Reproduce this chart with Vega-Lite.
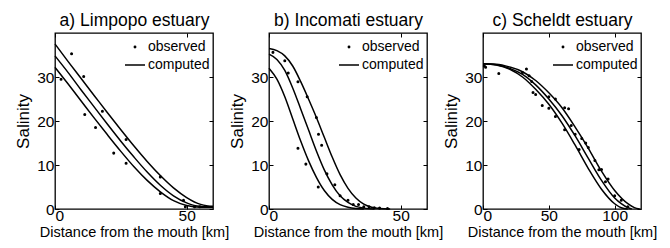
{
  "$schema": "https://vega.github.io/schema/vega-lite/v6.json",
  "padding": {"left": 14, "top": 10, "right": 5, "bottom": 0},
  "background": "white",
  "config": {
    "font": "Liberation Sans",
    "view": {"stroke": "black", "strokeWidth": 1.3},
    "axis": {"domain": false, "grid": false, "tickColor": "black", "tickSize": -4, "tickWidth": 1, "labelColor": "black", "labelFontSize": 15.5, "labelFont": "Liberation Sans", "titleFont": "Liberation Sans", "titleColor": "black", "titleFontWeight": "normal"},
    "axisBottom": {"labelPadding": 3, "titleFontSize": 14.5, "titlePadding": 2},
    "axisLeft": {"labelPadding": 5, "titleFontSize": 17, "titlePadding": 4},
    "axisTop": {"labels": false, "titleFontSize": 17.5, "titlePadding": 3},
    "axisRight": {"labels": false, "title": null},
    "legend": {"orient": "top-right", "offset": 3, "padding": 0, "title": null, "labelFontSize": 14, "labelFont": "Liberation Sans", "labelColor": "black", "labelOffset": 2, "rowPadding": -2, "symbolSize": 400, "symbolStrokeWidth": 1.5, "symbolStrokeColor": "black", "symbolFillColor": "transparent"}
  },
  "datasets": {
    "a_comp": [
      {"km": 0, "sal": 37.5, "curve": "u"}, {"km": 5, "sal": 33.5, "curve": "u"}, {"km": 10, "sal": 29.6, "curve": "u"}, {"km": 15, "sal": 25.7, "curve": "u"}, {"km": 20, "sal": 21.8, "curve": "u"}, {"km": 25, "sal": 18, "curve": "u"}, {"km": 30, "sal": 14.3, "curve": "u"}, {"km": 35, "sal": 10.8, "curve": "u"}, {"km": 40, "sal": 7.6, "curve": "u"}, {"km": 45, "sal": 4.8, "curve": "u"}, {"km": 50, "sal": 2.6, "curve": "u"}, {"km": 55, "sal": 1.1, "curve": "u"}, {"km": 58, "sal": 0.7, "curve": "u"}, {"km": 60, "sal": 0.6, "curve": "u"},
      {"km": 0, "sal": 34.8, "curve": "m"}, {"km": 5, "sal": 31, "curve": "m"}, {"km": 10, "sal": 27, "curve": "m"}, {"km": 15, "sal": 23.1, "curve": "m"}, {"km": 20, "sal": 19.2, "curve": "m"}, {"km": 25, "sal": 15.4, "curve": "m"}, {"km": 30, "sal": 11.8, "curve": "m"}, {"km": 35, "sal": 8.4, "curve": "m"}, {"km": 40, "sal": 5.4, "curve": "m"}, {"km": 45, "sal": 3, "curve": "m"}, {"km": 50, "sal": 1.4, "curve": "m"}, {"km": 55, "sal": 0.6, "curve": "m"}, {"km": 60, "sal": 0.5, "curve": "m"},
      {"km": 0, "sal": 32.2, "curve": "l"}, {"km": 5, "sal": 28.4, "curve": "l"}, {"km": 10, "sal": 24.5, "curve": "l"}, {"km": 15, "sal": 20.6, "curve": "l"}, {"km": 20, "sal": 16.8, "curve": "l"}, {"km": 25, "sal": 13.1, "curve": "l"}, {"km": 30, "sal": 9.6, "curve": "l"}, {"km": 35, "sal": 6.5, "curve": "l"}, {"km": 40, "sal": 3.9, "curve": "l"}, {"km": 45, "sal": 1.9, "curve": "l"}, {"km": 50, "sal": 0.8, "curve": "l"}, {"km": 55, "sal": 0.4, "curve": "l"}, {"km": 60, "sal": 0.4, "curve": "l"}
    ],
    "a_obs": [
      {"km": 2.3, "sal": 29.5}, {"km": 6.3, "sal": 35.3}, {"km": 10.9, "sal": 30.1}, {"km": 11.3, "sal": 21.5}, {"km": 15.4, "sal": 18.5}, {"km": 18, "sal": 22.2}, {"km": 22.3, "sal": 12.7}, {"km": 27, "sal": 15.8}, {"km": 27, "sal": 10.4}, {"km": 40, "sal": 7.3}, {"km": 40, "sal": 3.5}, {"km": 48.8, "sal": 2}, {"km": 49.5, "sal": 0.5}, {"km": 53, "sal": 0.5}, {"km": 55, "sal": 0.5}
    ],
    "b_comp": [
      {"km": 0, "sal": 36.5, "curve": "u"}, {"km": 3, "sal": 36, "curve": "u"}, {"km": 6, "sal": 34.8, "curve": "u"}, {"km": 9, "sal": 32.5, "curve": "u"}, {"km": 12, "sal": 29, "curve": "u"}, {"km": 15, "sal": 25, "curve": "u"}, {"km": 18, "sal": 20.8, "curve": "u"}, {"km": 21, "sal": 16.3, "curve": "u"}, {"km": 24, "sal": 11.8, "curve": "u"}, {"km": 27, "sal": 7.8, "curve": "u"}, {"km": 30, "sal": 4.7, "curve": "u"}, {"km": 33, "sal": 2.5, "curve": "u"}, {"km": 36, "sal": 1.1, "curve": "u"}, {"km": 39, "sal": 0.4, "curve": "u"}, {"km": 42, "sal": 0.1, "curve": "u"}, {"km": 46, "sal": 0, "curve": "u"},
      {"km": 0, "sal": 35.2, "curve": "m"}, {"km": 3, "sal": 34, "curve": "m"}, {"km": 6, "sal": 31.5, "curve": "m"}, {"km": 9, "sal": 27.5, "curve": "m"}, {"km": 12, "sal": 22.8, "curve": "m"}, {"km": 15, "sal": 18, "curve": "m"}, {"km": 18, "sal": 13.2, "curve": "m"}, {"km": 21, "sal": 8.9, "curve": "m"}, {"km": 24, "sal": 5.5, "curve": "m"}, {"km": 27, "sal": 3, "curve": "m"}, {"km": 30, "sal": 1.5, "curve": "m"}, {"km": 33, "sal": 0.6, "curve": "m"}, {"km": 36, "sal": 0.2, "curve": "m"}, {"km": 40, "sal": 0, "curve": "m"},
      {"km": 0, "sal": 32, "curve": "l"}, {"km": 3, "sal": 29.5, "curve": "l"}, {"km": 6, "sal": 25.5, "curve": "l"}, {"km": 9, "sal": 20.5, "curve": "l"}, {"km": 12, "sal": 15.5, "curve": "l"}, {"km": 15, "sal": 11, "curve": "l"}, {"km": 18, "sal": 7.2, "curve": "l"}, {"km": 21, "sal": 4.2, "curve": "l"}, {"km": 24, "sal": 2.2, "curve": "l"}, {"km": 27, "sal": 1, "curve": "l"}, {"km": 30, "sal": 0.4, "curve": "l"}, {"km": 33, "sal": 0.1, "curve": "l"}, {"km": 36, "sal": 0, "curve": "l"}
    ],
    "b_obs": [
      {"km": 1.5, "sal": 35.6}, {"km": 6, "sal": 33.7}, {"km": 7.3, "sal": 30.9}, {"km": 11, "sal": 28.9}, {"km": 14.5, "sal": 25.5}, {"km": 18, "sal": 20.8}, {"km": 18.8, "sal": 17}, {"km": 20, "sal": 14.5}, {"km": 11, "sal": 13.8}, {"km": 14, "sal": 10.2}, {"km": 18.7, "sal": 5}, {"km": 22, "sal": 8}, {"km": 25, "sal": 5.5}, {"km": 27, "sal": 3}, {"km": 30, "sal": 2}, {"km": 32, "sal": 1}, {"km": 34, "sal": 1}, {"km": 36, "sal": 0.5}, {"km": 38, "sal": 0.5}, {"km": 40, "sal": 0.3}, {"km": 42, "sal": 0.2}, {"km": 45, "sal": 0.1}
    ],
    "c_comp": [
      {"km": 0, "sal": 33, "curve": "u"}, {"km": 10, "sal": 32.9, "curve": "u"}, {"km": 20, "sal": 32.3, "curve": "u"}, {"km": 30, "sal": 31.2, "curve": "u"}, {"km": 40, "sal": 29.2, "curve": "u"}, {"km": 50, "sal": 26.4, "curve": "u"}, {"km": 60, "sal": 23, "curve": "u"}, {"km": 70, "sal": 18.6, "curve": "u"}, {"km": 80, "sal": 13.8, "curve": "u"}, {"km": 90, "sal": 8.6, "curve": "u"}, {"km": 100, "sal": 4.2, "curve": "u"}, {"km": 110, "sal": 1.2, "curve": "u"}, {"km": 115, "sal": 0.3, "curve": "u"}, {"km": 119, "sal": 0, "curve": "u"},
      {"km": 0, "sal": 33, "curve": "m"}, {"km": 10, "sal": 32.8, "curve": "m"}, {"km": 20, "sal": 32, "curve": "m"}, {"km": 30, "sal": 30.6, "curve": "m"}, {"km": 40, "sal": 28.2, "curve": "m"}, {"km": 50, "sal": 25, "curve": "m"}, {"km": 60, "sal": 21.2, "curve": "m"}, {"km": 70, "sal": 16.6, "curve": "m"}, {"km": 80, "sal": 11.5, "curve": "m"}, {"km": 90, "sal": 6.5, "curve": "m"}, {"km": 100, "sal": 2.5, "curve": "m"}, {"km": 105, "sal": 1.2, "curve": "m"}, {"km": 110, "sal": 0.3, "curve": "m"}, {"km": 113, "sal": 0, "curve": "m"},
      {"km": 0, "sal": 33, "curve": "l"}, {"km": 10, "sal": 32.7, "curve": "l"}, {"km": 20, "sal": 31.8, "curve": "l"}, {"km": 30, "sal": 30, "curve": "l"}, {"km": 40, "sal": 27.2, "curve": "l"}, {"km": 50, "sal": 23.8, "curve": "l"}, {"km": 60, "sal": 19.5, "curve": "l"}, {"km": 70, "sal": 14.5, "curve": "l"}, {"km": 80, "sal": 9.2, "curve": "l"}, {"km": 90, "sal": 4.5, "curve": "l"}, {"km": 100, "sal": 1.2, "curve": "l"}, {"km": 105, "sal": 0.3, "curve": "l"}, {"km": 110, "sal": 0, "curve": "l"}
    ],
    "c_obs": [
      {"km": 1, "sal": 32.5}, {"km": 2, "sal": 32.2}, {"km": 12, "sal": 30.8}, {"km": 30, "sal": 31}, {"km": 33, "sal": 31.8}, {"km": 35, "sal": 30.3}, {"km": 37, "sal": 29}, {"km": 38, "sal": 26.5}, {"km": 40, "sal": 26}, {"km": 45, "sal": 23.5}, {"km": 50, "sal": 25.5}, {"km": 50, "sal": 22.9}, {"km": 55, "sal": 21}, {"km": 55, "sal": 25}, {"km": 62, "sal": 18}, {"km": 62, "sal": 23}, {"km": 65, "sal": 22.8}, {"km": 67, "sal": 19}, {"km": 70, "sal": 17}, {"km": 73, "sal": 13.5}, {"km": 75, "sal": 16}, {"km": 78, "sal": 15}, {"km": 80, "sal": 14}, {"km": 85, "sal": 11}, {"km": 88, "sal": 8.9}, {"km": 90, "sal": 9}, {"km": 93, "sal": 6.2}, {"km": 95, "sal": 6.8}, {"km": 100, "sal": 3}, {"km": 105, "sal": 2}, {"km": 110, "sal": 0.5}
    ]
  },
  "spacing": 56,
  "bounds": "flush",
  "resolve": {"scale": {"shape": "independent"}, "legend": {"shape": "independent"}},
  "hconcat": [
    {
      "width": 158, "height": 176,
      "resolve": {"axis": {"x": "independent", "y": "independent"}},
      "layer": [
        {"data": {"name": "a_comp"}, "mark": {"type": "line", "color": "black", "strokeWidth": 1.5, "interpolate": "monotone"},
         "encoding": {"x": {"field": "km", "type": "quantitative", "scale": {"domain": [0, 60], "nice": false}, "axis": {"orient": "bottom", "values": [0, 50], "title": "Distance from the mouth [km]"}},
                      "y": {"field": "sal", "type": "quantitative", "scale": {"domain": [0, 40], "nice": false}, "axis": {"orient": "left", "values": [0, 10, 20, 30], "title": "Salinity"}},
                      "detail": {"field": "curve"}}},
        {"data": {"name": "a_obs"}, "mark": {"type": "point", "filled": false, "color": "black", "strokeWidth": 1.5, "size": 484, "opacity": 1},
         "encoding": {"x": {"field": "km", "type": "quantitative", "axis": {"orient": "top", "values": [0, 50], "title": "a) Limpopo estuary"}},
                      "y": {"field": "sal", "type": "quantitative", "axis": {"orient": "right", "values": [0, 10, 20, 30], "title": null}},
                      "shape": {"datum": "observed", "scale": {"domain": ["observed", "computed"], "range": ["M-0.07,0A0.07,0.07,0,1,0,0.07,0A0.07,0.07,0,1,0,-0.07,0Z", "M-1,0L1,0"]}, "legend": {"title": null}}}}
      ]
    },
    {
      "width": 158, "height": 176,
      "resolve": {"axis": {"x": "independent", "y": "independent"}},
      "layer": [
        {"data": {"name": "b_comp"}, "mark": {"type": "line", "color": "black", "strokeWidth": 1.5, "interpolate": "monotone"},
         "encoding": {"x": {"field": "km", "type": "quantitative", "scale": {"domain": [0, 60], "nice": false}, "axis": {"orient": "bottom", "values": [0, 50], "title": "Distance from the mouth [km]"}},
                      "y": {"field": "sal", "type": "quantitative", "scale": {"domain": [0, 40], "nice": false}, "axis": {"orient": "left", "values": [0, 10, 20, 30], "title": "Salinity"}},
                      "detail": {"field": "curve"}}},
        {"data": {"name": "b_obs"}, "mark": {"type": "point", "filled": false, "color": "black", "strokeWidth": 1.5, "size": 484, "opacity": 1},
         "encoding": {"x": {"field": "km", "type": "quantitative", "axis": {"orient": "top", "values": [0, 50], "title": "b) Incomati estuary"}},
                      "y": {"field": "sal", "type": "quantitative", "axis": {"orient": "right", "values": [0, 10, 20, 30], "title": null}},
                      "shape": {"datum": "observed", "scale": {"domain": ["observed", "computed"], "range": ["M-0.07,0A0.07,0.07,0,1,0,0.07,0A0.07,0.07,0,1,0,-0.07,0Z", "M-1,0L1,0"]}, "legend": {"title": null}}}}
      ]
    },
    {
      "width": 158, "height": 176,
      "resolve": {"axis": {"x": "independent", "y": "independent"}},
      "layer": [
        {"data": {"name": "c_comp"}, "mark": {"type": "line", "color": "black", "strokeWidth": 1.5, "interpolate": "monotone"},
         "encoding": {"x": {"field": "km", "type": "quantitative", "scale": {"domain": [0, 120], "nice": false}, "axis": {"orient": "bottom", "values": [0, 50, 100], "title": "Distance from the mouth [km]"}},
                      "y": {"field": "sal", "type": "quantitative", "scale": {"domain": [0, 40], "nice": false}, "axis": {"orient": "left", "values": [0, 10, 20, 30], "title": "Salinity"}},
                      "detail": {"field": "curve"}}},
        {"data": {"name": "c_obs"}, "mark": {"type": "point", "filled": false, "color": "black", "strokeWidth": 1.5, "size": 484, "opacity": 1},
         "encoding": {"x": {"field": "km", "type": "quantitative", "axis": {"orient": "top", "values": [0, 50, 100], "title": "c) Scheldt estuary"}},
                      "y": {"field": "sal", "type": "quantitative", "axis": {"orient": "right", "values": [0, 10, 20, 30], "title": null}},
                      "shape": {"datum": "observed", "scale": {"domain": ["observed", "computed"], "range": ["M-0.07,0A0.07,0.07,0,1,0,0.07,0A0.07,0.07,0,1,0,-0.07,0Z", "M-1,0L1,0"]}, "legend": {"title": null}}}}
      ]
    }
  ]
}
